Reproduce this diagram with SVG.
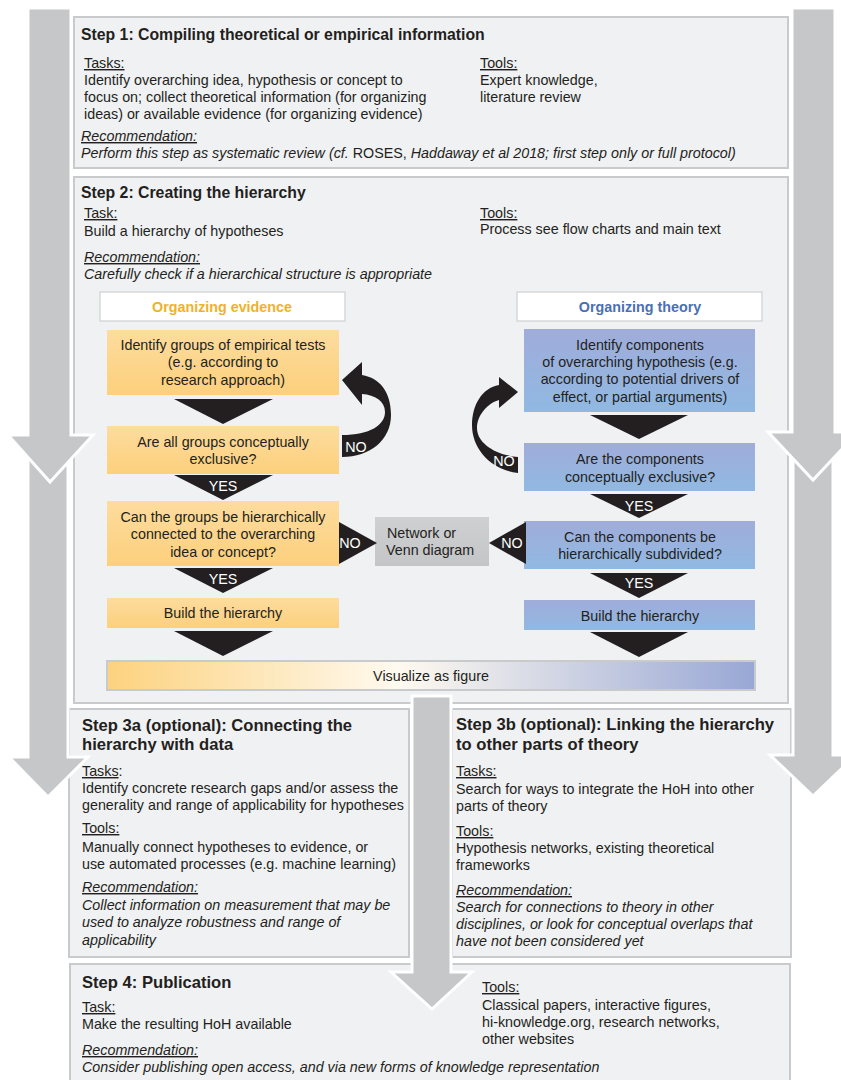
<svg xmlns="http://www.w3.org/2000/svg" width="841" height="1080" viewBox="0 0 841 1080">
<defs>
<linearGradient id="gOrange" x1="0" y1="0" x2="0" y2="1"><stop offset="0" stop-color="#fddc9e"/><stop offset="1" stop-color="#fcd07c"/></linearGradient>
<linearGradient id="gBlue" x1="0" y1="0" x2="0" y2="1"><stop offset="0" stop-color="#a0acda"/><stop offset="1" stop-color="#90b9e2"/></linearGradient>
<linearGradient id="gVis" x1="0" y1="0" x2="1" y2="0"><stop offset="0" stop-color="#fcd27e"/><stop offset="0.45" stop-color="#fffaf0"/><stop offset="1" stop-color="#98a7d5"/></linearGradient>
<linearGradient id="gGray" x1="0" y1="0" x2="0" y2="1"><stop offset="0" stop-color="#cfd0d2"/><stop offset="1" stop-color="#c4c5c7"/></linearGradient>
</defs>
<style>
.step{fill:#f0f1f3;stroke:#c9cacc;stroke-width:2}
.big{fill:#c6c7c9;stroke:#ffffff;stroke-width:3;stroke-linejoin:miter}
text{font-family:"Liberation Sans",Arial,sans-serif;fill:#231f20;font-size:14.3px}
.t{font-weight:bold;font-size:15.8px}
.t3{font-weight:bold;font-size:16.6px}
.u{text-decoration:underline}
.i{font-style:italic}
.c{text-anchor:middle}
.w{fill:#ffffff}
.oe{fill:#f0b22a;font-weight:bold}
.ot{fill:#4a6fb5;font-weight:bold}
.tri{fill:#231f20}
.ob{fill:url(#gOrange)}
.bb{fill:url(#gBlue)}
.hd{fill:#ffffff;stroke:#d6d7d9;stroke-width:1.5}
</style>
<rect width="841" height="1080" fill="#ffffff"/>

<g id="step1">
<rect class="step" x="74" y="17" width="714" height="151"/>
<text class="t" x="81" y="40">Step 1: Compiling theoretical or empirical information</text>
<text class="u" x="84" y="68">Tasks:</text>
<text x="84" y="85">Identify overarching idea, hypothesis or concept to</text>
<text x="84" y="102">focus on; collect theoretical information (for organizing</text>
<text x="84" y="119">ideas) or available evidence (for organizing evidence)</text>
<text class="u" x="480" y="68">Tools:</text>
<text x="480" y="85">Expert knowledge,</text>
<text x="480" y="102">literature review</text>
<text class="u i" x="81" y="141">Recommendation:</text>
<text class="i" x="81" y="158">Perform this step as systematic review (cf. <tspan font-style="normal">ROSES,</tspan> Haddaway et al 2018; first step only or full protocol)</text>
</g>

<g id="step2">
<rect class="step" x="74" y="177" width="714" height="526"/>
<text class="t" x="81" y="198">Step 2: Creating the hierarchy</text>
<text class="u" x="84" y="218">Task:</text>
<text x="84" y="236">Build a hierarchy of hypotheses</text>
<text class="u" x="480" y="218">Tools:</text>
<text x="480" y="234">Process see flow charts and main text</text>
<text class="u i" x="84" y="262">Recommendation:</text>
<text class="i" x="84" y="279">Carefully check if a hierarchical structure is appropriate</text>
</g>

<g id="head-evidence">
<rect class="hd" x="100" y="292" width="245" height="29"/>
<text class="c oe" x="222" y="312">Organizing evidence</text>
</g>
<g id="head-theory">
<rect class="hd" x="517" y="292" width="245" height="29"/>
<text class="c ot" x="640" y="312">Organizing theory</text>
</g>

<g id="ev1">
<rect class="ob" x="107" y="330" width="232" height="65"/>
<text class="c" x="223" y="350">Identify groups of empirical tests</text>
<text class="c" x="223" y="367">(e.g. according to</text>
<text class="c" x="223" y="385">research approach)</text>
</g>
<g id="ev2">
<rect class="ob" x="107" y="426" width="232" height="48"/>
<text class="c" x="223" y="447">Are all groups conceptually</text>
<text class="c" x="223" y="464">exclusive?</text>
</g>
<g id="ev3">
<rect class="ob" x="107" y="501" width="232" height="65"/>
<text class="c" x="223" y="522">Can the groups be hierarchically</text>
<text class="c" x="223" y="539">connected to the overarching</text>
<text class="c" x="223" y="557">idea or concept?</text>
</g>
<g id="ev4">
<rect class="ob" x="107" y="598" width="232" height="30"/>
<text class="c" x="223" y="618">Build the hierarchy</text>
</g>

<g id="th1">
<rect class="bb" x="524" y="329" width="231" height="83"/>
<text class="c" x="640" y="350">Identify components</text>
<text class="c" x="640" y="367">of overarching hypothesis (e.g.</text>
<text class="c" x="640" y="384">according to potential drivers of</text>
<text class="c" x="640" y="402">effect, or partial arguments)</text>
</g>
<g id="th2">
<rect class="bb" x="524" y="443" width="231" height="48"/>
<text class="c" x="640" y="464">Are the components</text>
<text class="c" x="640" y="482">conceptually exclusive?</text>
</g>
<g id="th3">
<rect class="bb" x="524" y="521" width="231" height="48"/>
<text class="c" x="640" y="542">Can the components be</text>
<text class="c" x="640" y="559">hierarchically subdivided?</text>
</g>
<g id="th4">
<rect class="bb" x="524" y="600" width="231" height="30"/>
<text class="c" x="640" y="621">Build the hierarchy</text>
</g>

<g id="network">
<rect x="375" y="517" width="114" height="49" fill="url(#gGray)"/>
<text x="387" y="538">Network or</text>
<text x="386" y="555">Venn diagram</text>
</g>

<g id="visualize">
<rect x="107" y="661" width="648" height="29" fill="url(#gVis)" stroke="#c9cacc" stroke-width="2"/>
<text class="c" x="431" y="681">Visualize as figure</text>
</g>

<g id="connectors">
<polygon class="tri" points="174,399 273,399 223,424"/>
<polygon class="tri" points="174,475 273,475 223,500"/>
<text class="c w" x="223" y="491">YES</text>
<polygon class="tri" points="174,568 273,568 223,593"/>
<text class="c w" x="223" y="584">YES</text>
<polygon class="tri" points="174,631 273,631 223,656"/>
<polygon class="tri" points="590,415 688,415 639,439"/>
<polygon class="tri" points="590,494 688,494 639,518"/>
<text class="c w" x="639" y="511">YES</text>
<polygon class="tri" points="590,573 688,573 639,598"/>
<text class="c w" x="639" y="588">YES</text>
<polygon class="tri" points="590,632 688,632 639,657"/>
<polygon class="tri" points="339,522 339,564 377,543"/>
<text class="c w" x="350" y="548">NO</text>
<polygon class="tri" points="526,522 526,564 489,543"/>
<text class="c w" x="512" y="548">NO</text>
<path class="tri" d="M342,380 L362,362 L362,375 C380,378 391,392 391,415 C391,440 370,457 342,457 L342,435 C370,435 385,425 385,412 C385,401 375,395 362,394 L362,405 Z"/>
<text class="c w" x="356" y="452">NO</text>
<path class="tri" d="M518,392 L499,377 L499,385 C482,388 472,405 472,425 C472,450 492,470 518,473 L518,457 C495,455 477,443 477,428 C477,415 488,403 499,400 L499,408 Z"/>
<text class="c w" x="504" y="466">NO</text>
</g>

<g id="step3a">
<rect class="step" x="69" y="709" width="340" height="248"/>
<text class="t3" x="82" y="731">Step 3a (optional): Connecting the</text>
<text class="t3" x="82" y="750">hierarchy with data</text>
<text x="82" y="776"><tspan class="u">Tasks</tspan>:</text>
<text x="82" y="793">Identify concrete research gaps and/or assess the</text>
<text x="82" y="810">generality and range of applicability for hypotheses</text>
<text class="u" x="82" y="833">Tools:</text>
<text x="82" y="852">Manually connect hypotheses to evidence, or</text>
<text x="82" y="869">use automated processes (e.g. machine learning)</text>
<text class="u i" x="82" y="892">Recommendation:</text>
<text class="i" x="82" y="910">Collect information on measurement that may be</text>
<text class="i" x="82" y="927">used to analyze robustness and range of</text>
<text class="i" x="82" y="945">applicability</text>
</g>

<g id="step3b">
<rect class="step" x="452" y="709" width="339" height="248"/>
<text class="t3" x="456" y="730">Step 3b (optional): Linking the hierarchy</text>
<text class="t3" x="456" y="750">to other parts of theory</text>
<text class="u" x="456" y="776">Tasks:</text>
<text x="456" y="794">Search for ways to integrate the HoH into other</text>
<text x="456" y="811">parts of theory</text>
<text class="u" x="456" y="836">Tools:</text>
<text x="456" y="853">Hypothesis networks, existing theoretical</text>
<text x="456" y="870">frameworks</text>
<text class="u i" x="456" y="895">Recommendation:</text>
<text class="i" x="456" y="912">Search for connections to theory in other</text>
<text class="i" x="456" y="929">disciplines, or look for conceptual overlaps that</text>
<text class="i" x="456" y="946">have not been considered yet</text>
</g>

<g id="step4">
<rect class="step" x="70" y="964" width="720" height="130"/>
<text class="t3" x="82" y="988">Step 4: Publication</text>
<text class="u" x="82" y="1012">Task:</text>
<text x="82" y="1029">Make the resulting HoH available</text>
<text class="u i" x="82" y="1055">Recommendation:</text>
<text class="i" x="82" y="1072">Consider publishing open access, and via new forms of knowledge representation</text>
<text class="u" x="482" y="992">Tools:</text>
<text x="482" y="1010">Classical papers, interactive figures,</text>
<text x="482" y="1027">hi-knowledge.org, research networks,</text>
<text x="482" y="1044">other websites</text>
</g>

<g id="flow-arrows">
<polygon class="big" points="28,450 68,450 68,757 88,757 48,797 9,757 28,757"/>
<polygon class="big" points="28,8 71,8 71,435 93,435 50,482 8,435 28,435"/>
<polygon class="big" points="793,450 833,450 833,755 856,755 813,796 770,755 793,755"/>
<polygon class="big" points="792,8 835,8 835,432 858,432 813,480 768,432 792,432"/>
<polygon class="big" points="412,696 451,696 451,972 472,972 432,1009 391,972 412,972"/>
</g>
</svg>
